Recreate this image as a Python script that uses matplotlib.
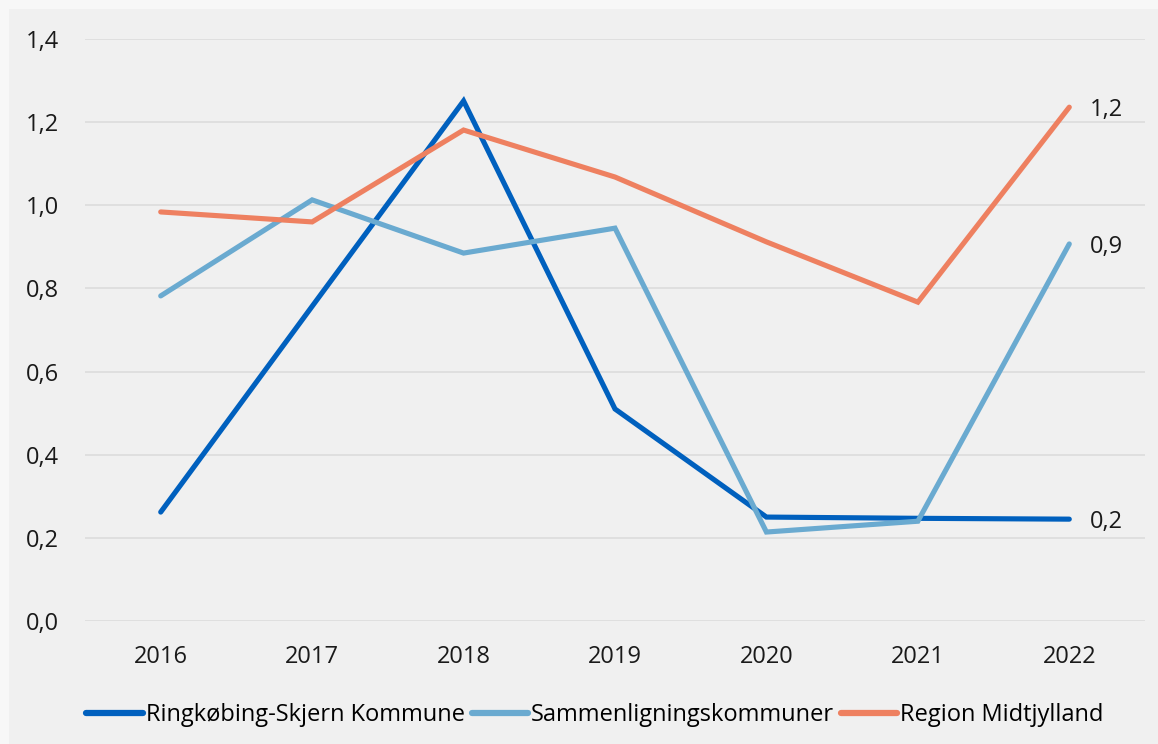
import matplotlib
matplotlib.use("Agg")
import matplotlib.pyplot as plt
from matplotlib.patches import Rectangle

# ---------------------------------------------------------------------------
# Data
# ---------------------------------------------------------------------------
years = ["2016", "2017", "2018", "2019", "2020", "2021", "2022"]
ringkobing = [0.262, 0.757, 1.251, 0.510, 0.250, 0.247, 0.245]
sammenligning = [0.782, 1.013, 0.885, 0.945, 0.214, 0.240, 0.907]
region = [0.984, 0.960, 1.181, 1.068, 0.912, 0.767, 1.236]
end_labels = ["0,2", "0,9", "1,2"]
y_ticks = [0.0, 0.2, 0.4, 0.6, 0.8, 1.0, 1.2, 1.4]

series = [
    ("Ringkøbing-Skjern Kommune", ringkobing, "#0060BE"),
    ("Sammenligningskommuner", sammenligning, "#6AAAD0"),
    ("Region Midtjylland", region, "#EE8060"),
]

plt.rcParams["font.family"] = ["Open Sans", "DejaVu Sans"]

fig = plt.figure(figsize=(11.58, 7.44), dpi=100)
fig.patch.set_facecolor("#F7F7F7")
# inner panel, slightly darker than the page
fig.patches.append(Rectangle((9 / 1158, 0), 1 - 9 / 1158, 1 - 9 / 744,
                             transform=fig.transFigure, facecolor="#F0F0F0",
                             edgecolor="none", zorder=-1))

ax = fig.add_axes([85 / 1158, 1 - 621 / 744, 1060 / 1158, 582 / 744])
ax.set_zorder(2)
ax.set_facecolor("none")

x = list(range(len(years)))
for name, vals, col in series:
    ax.plot(x, vals, color=col, linewidth=3.7, label=name,
            solid_capstyle="round", solid_joinstyle="miter")

for (name, vals, col), lab in zip(series, end_labels):
    ax.annotate(lab, (x[-1], vals[-1]), xytext=(15, -2),
                textcoords="offset points", va="center", ha="left",
                fontsize=17, color="#1a1a1a")

ax.set_xlim(-0.5, len(years) - 0.5)
ax.set_ylim(0, 1.4)
ax.set_yticks(y_ticks)
ax.set_yticklabels([f"{v:.1f}".replace(".", ",") for v in y_ticks])
ax.set_xticks(x)
ax.set_xticklabels(years)
ax.grid(axis="y", color="#DCDCDC", linewidth=1.2)
ax.set_axisbelow(True)
for s in ax.spines.values():
    s.set_visible(False)
ax.tick_params(length=0, labelsize=17, labelcolor="#1a1a1a")
ax.tick_params(axis="y", pad=19)
ax.tick_params(axis="x", pad=17)

leg = ax.legend(loc="upper center", bbox_to_anchor=(0.481, -0.105), ncol=3,
                frameon=False, fontsize=17, handlelength=2.4,
                handletextpad=0.1, columnspacing=0.3)
for h in leg.get_lines():
    h.set_linewidth(4.5)

fig.savefig("out.png", dpi=100, facecolor=fig.get_facecolor())
